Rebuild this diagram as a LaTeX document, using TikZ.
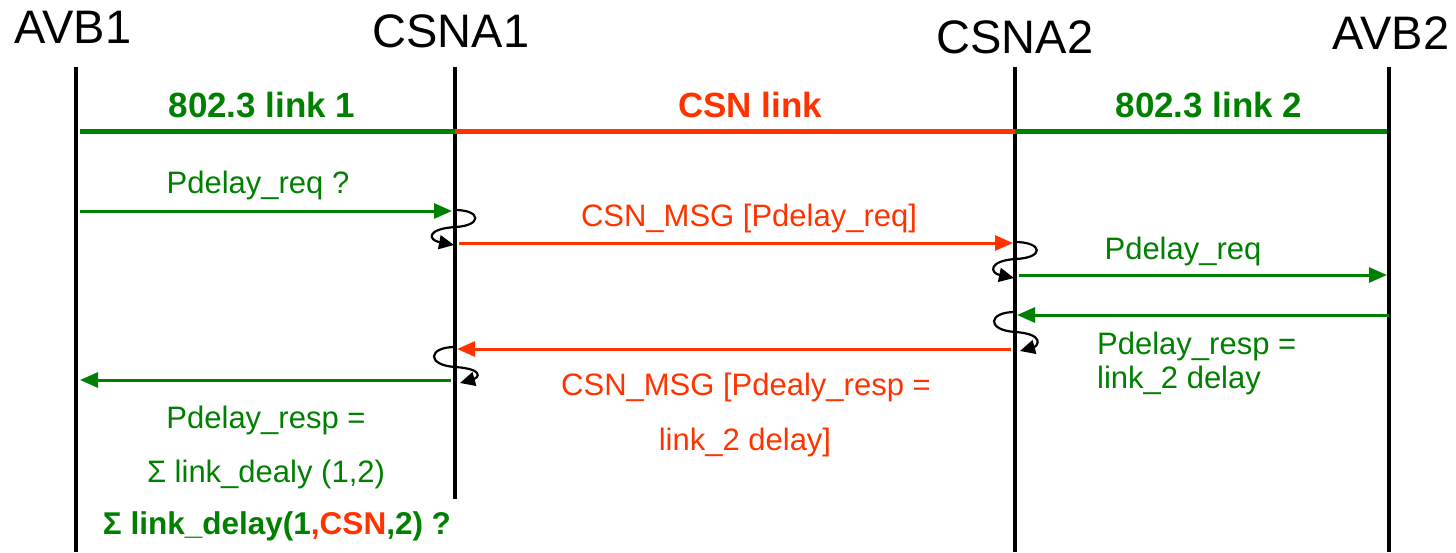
\documentclass[tikz,border=0pt]{standalone}
\usepackage{fontspec}
\setmainfont{Liberation Sans}
\usetikzlibrary{arrows.meta}
\definecolor{gr}{RGB}{0,128,0}
\definecolor{rd}{RGB}{255,51,0}
\tikzset{
  head/.style={font=\fontsize{47}{52}\selectfont, anchor=base, inner sep=0},
  lbl/.style={font=\fontsize{31}{36}\selectfont, anchor=base, inner sep=0},
  blbl/.style={font=\fontsize{35}{40}\selectfont\bfseries, anchor=base, inner sep=0},
  life/.style={line width=4.5pt},
  bar/.style={line width=5pt},
  msg/.style={line width=3pt, -{Triangle[length=18pt,width=15pt]}},
  loopy/.style={line width=2.2pt, -{Triangle[length=15pt,width=14pt]}}
}
\begin{document}
\begin{tikzpicture}[x=1pt,y=-1pt]
\useasboundingbox (0,0) rectangle (1456,552);
% headers
\node[head] (hA1) at (73,43) {AVB1};
\node[head] (hC1) at (451,47) {CSNA1};
\node[head] (hC2) at (1015,53) {CSNA2};
\node[head] (hA2) at (1391,49) {AVB2};
% lifelines
\coordinate (a1t) at (76,67);  \coordinate (a1b) at (76,552);
\coordinate (c1t) at (455,67); \coordinate (c1b) at (455,499);
\coordinate (c2t) at (1015,67); \coordinate (c2b) at (1015,552);
\coordinate (a2t) at (1389,67); \coordinate (a2b) at (1389,552);
\draw[life] (a1t) -- (a1b);
\draw[life] (c1t) -- (c1b);
\draw[life] (c2t) -- (c2b);
\draw[life] (a2t) -- (a2b);
% link bars
\coordinate (l0) at (80,131); \coordinate (l1) at (455,131);
\coordinate (l2) at (1015,131); \coordinate (l3) at (1387,131);
\draw[bar,gr] (l0) -- (l1);
\draw[bar,rd] (l1) -- (l2);
\draw[bar,gr] (l2) -- (l3);
\node[blbl,text=gr] (t1) at (262,117) {802.3 link 1};
\node[blbl,text=rd] (t2) at (750,117) {CSN link};
\node[blbl,text=gr] (t3) at (1209,117) {802.3 link 2};
% message 1
\coordinate (m1s) at (80,211); \coordinate (m1e) at (452,211);
\draw[msg,gr] (m1s) -- (m1e);
\node[lbl,text=gr] (m1l) at (258,193) {Pdelay\_req ?};
% loop at CSNA1
\coordinate (p1s) at (455,210); \coordinate (p1e) at (454,245);
\draw[loopy] (p1s) .. controls (482,210) and (482,226) .. (455,227)
  .. controls (426,229) and (428,240) .. (p1e);
% message 2
\coordinate (m2s) at (459,243); \coordinate (m2e) at (1013,243);
\draw[msg,rd] (m2s) -- (m2e);
\node[lbl,text=rd] (m2l) at (749,226) {CSN\_MSG [Pdelay\_req]};
% loop at CSNA2
\coordinate (p2s) at (1015,242); \coordinate (p2e) at (1014,278);
\draw[loopy] (p2s) .. controls (1043,242) and (1045,258) .. (1015,259)
  .. controls (988,261) and (990,273) .. (p2e);
% message 3
\coordinate (m3s) at (1019,275); \coordinate (m3e) at (1387,275);
\draw[msg,gr] (m3s) -- (m3e);
\node[lbl,text=gr] (m3l) at (1183,259) {Pdelay\_req};
% message 4
\coordinate (m4s) at (1389,315); \coordinate (m4e) at (1017,315);
\draw[msg,gr] (m4s) -- (m4e);
\node[lbl,text=gr,anchor=base west] (m4l) at (1097,354) {Pdelay\_resp =};
\node[lbl,text=gr,anchor=base west] (m4m) at (1097,388) {link\_2 delay};
% loop at CSNA2 (return)
\coordinate (p3s) at (1015,312); \coordinate (p3e) at (1020,351);
\draw[loopy] (p3s) .. controls (988,312) and (986,330) .. (1015,332)
  .. controls (1045,334) and (1038,346) .. (p3e);
% message 5
\coordinate (m5s) at (1011,349); \coordinate (m5e) at (457,349);
\draw[msg,rd] (m5s) -- (m5e);
\node[lbl,text=rd] (m5l) at (746,395) {CSN\_MSG [Pdealy\_resp =};
\node[lbl,text=rd] (m5m) at (745,450) {link\_2 delay]};
% loop at CSNA1 (return)
\coordinate (p4s) at (455,347); \coordinate (p4e) at (460,383);
\draw[loopy] (p4s) .. controls (428,347) and (426,365) .. (455,367)
  .. controls (485,369) and (478,378) .. (p4e);
% message 6
\coordinate (m6s) at (451,380); \coordinate (m6e) at (80,380);
\draw[msg,gr] (m6s) -- (m6e);
\node[lbl,text=gr] (m6l) at (266,428) {Pdelay\_resp =};
\node[lbl,text=gr] (m6m) at (266,482) {Σ link\_dealy (1,2)};
% bottom summary
\node[blbl,text=gr,font=\fontsize{31.5}{36}\selectfont\bfseries] (sum) at (277,534)
  {Σ link\_delay(1\textcolor{rd}{,CSN},2) ?};
\end{tikzpicture}
\end{document}
